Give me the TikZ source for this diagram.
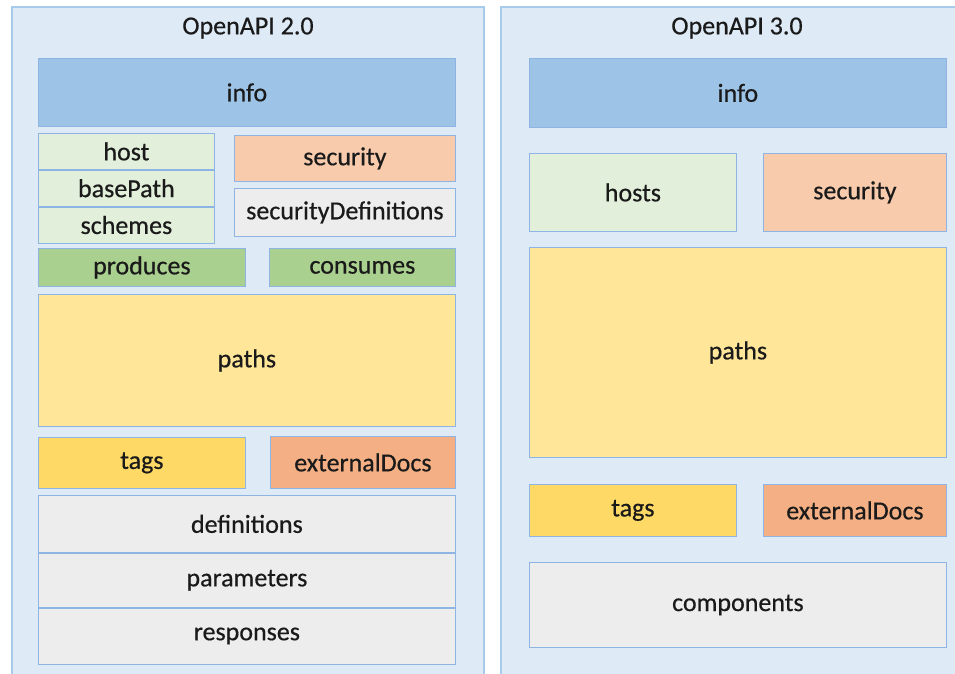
\documentclass[tikz,border=0pt]{standalone}
\usepackage{fontspec}
\setmainfont{Carlito}[BoldFont=Carlito,BoldFeatures={FakeBold=0.5}]
\usetikzlibrary{positioning}
\definecolor{panelfill}{HTML}{DEEBF7}
\definecolor{panelline}{HTML}{A9CBEB}
\definecolor{fieldline}{HTML}{8DB4E2}
\definecolor{infofill}{HTML}{9DC3E6}
\definecolor{hostfill}{HTML}{E2EFDA}
\definecolor{securityfill}{HTML}{F8CBAD}
\definecolor{greyfill}{HTML}{EDEDED}
\definecolor{mimefill}{HTML}{A9D08E}
\definecolor{pathsfill}{HTML}{FFE699}
\definecolor{tagsfill}{HTML}{FFD966}
\definecolor{docsfill}{HTML}{F4B084}
\definecolor{textcol}{HTML}{1A1A1A}
\tikzset{
  panel/.style={draw=panelline,fill=panelfill,line width=1.2pt},
  heading/.style={inner sep=0pt,text=textcol,font=\fontsize{26}{31}\selectfont\bfseries},
  field/.style={draw=fieldline,line width=0.8pt,anchor=north west,inner sep=0pt,
    text=textcol,font=\fontsize{26}{31}\selectfont\bfseries},
  stacked/.style={field,anchor=north,minimum width=#1}
}
\begin{document}
\begin{tikzpicture}[x=1pt,y=-1pt]
\useasboundingbox (0,0) rectangle (955,674);
\clip (0,0) rectangle (955,674);
\fill[white] (0,0) rectangle (955,674);
\draw[panel] (12,7) rectangle (484,690);
\draw[panel] (501,7) rectangle (975,690);

% OpenAPI 2.0
\node[heading] (title2) at (248,28) {OpenAPI 2.0};
\node[field,fill=infofill,minimum width=417,minimum height=68] (info2) at (38,58) {info};
\node[field,fill=hostfill,minimum width=176,minimum height=36] (host) at (38,133) {host};
\node[stacked=176,fill=hostfill,minimum height=36,below=0pt of host] (basepath) {basePath};
\node[stacked=176,fill=hostfill,minimum height=36,below=0pt of basepath] (schemes) {schemes};
\node[field,fill=securityfill,minimum width=221,minimum height=46] (security2) at (234,135) {security};
\node[field,fill=greyfill,minimum width=221,minimum height=48] (secdefs) at (234,188) {securityDefinitions};
\node[field,fill=mimefill,minimum width=207,minimum height=38] (produces) at (38,248) {produces};
\node[field,fill=mimefill,minimum width=186,minimum height=38] (consumes) at (269,248) {consumes};
\node[field,fill=pathsfill,minimum width=417,minimum height=132] (paths2) at (38,294) {paths};
\node[field,fill=tagsfill,minimum width=207,minimum height=51] (tags2) at (38,437) {tags};
\node[field,fill=docsfill,minimum width=185,minimum height=52] (docs2) at (270,436) {externalDocs};
\node[field,fill=greyfill,minimum width=417,minimum height=57] (definitions) at (38,495) {definitions};
\node[stacked=417,fill=greyfill,minimum height=54,below=0pt of definitions] (parameters) {parameters};
\node[stacked=417,fill=greyfill,minimum height=56,below=0pt of parameters] (responses) {responses};

% OpenAPI 3.0
\node[heading] (title3) at (737,28) {OpenAPI 3.0};
\node[field,fill=infofill,minimum width=417,minimum height=69] (info3) at (529,58) {info};
\node[field,fill=hostfill,minimum width=207,minimum height=78] (hosts) at (529,153) {hosts};
\node[field,fill=securityfill,minimum width=183,minimum height=78] (security3) at (763,153) {security};
\node[field,fill=pathsfill,minimum width=417,minimum height=210] (paths3) at (529,247) {paths};
\node[field,fill=tagsfill,minimum width=207,minimum height=52] (tags3) at (529,484) {tags};
\node[field,fill=docsfill,minimum width=183,minimum height=52] (docs3) at (763,484) {externalDocs};
\node[field,fill=greyfill,minimum width=417,minimum height=85] (components) at (529,562) {components};
\end{tikzpicture}
\end{document}
